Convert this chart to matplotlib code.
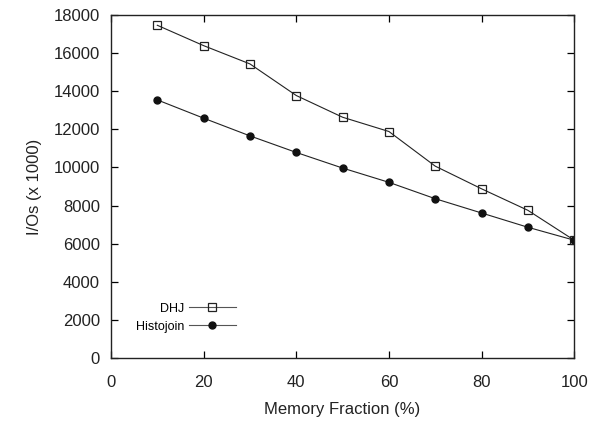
import numpy as np
import matplotlib
matplotlib.use('Agg')
import matplotlib.pyplot as plt

plt.rcParams['font.family'] = ['Liberation Sans', 'DejaVu Sans']

# memory fraction (%)
mem_frac = [10, 20, 30, 40, 50, 60, 70, 80, 90, 100]
# I/Os (x 1000)
dhj = [17470, 16400, 15440, 13780, 12640, 11890, 10070, 8880, 7750, 6180]
histojoin = [13550, 12590, 11660, 10790, 9970, 9220, 8360, 7610, 6860, 6180]

xticks = [0, 20, 40, 60, 80, 100]
yticks = list(range(0, 18001, 2000))

fig = plt.figure(figsize=(6.0, 4.22), dpi=100)
ax = fig.add_axes([0.185, 0.152, 0.772, 0.812])

ax.plot(mem_frac, dhj, color='#222222', lw=0.8, marker='s', ms=5.5,
        mfc='none', mec='#222222', mew=0.9, label='DHJ')
ax.plot(mem_frac, histojoin, color='#222222', lw=0.8, marker='o', ms=5,
        mfc='#111111', mec='#111111', label='Histojoin')

ax.set_xlim(0, 100)
ax.set_ylim(0, 18000)
ax.set_xticks(xticks)
ax.set_yticks(yticks)
ax.tick_params(direction='in', length=5, width=0.9, top=True, right=True,
               labelsize=12, labelcolor='#222222')
ax.tick_params(axis='x', pad=12)
ax.tick_params(axis='y', pad=8)
for s in ax.spines.values():
    s.set_linewidth(1.0)
    s.set_color('#222222')

ax.set_xlabel('Memory Fraction (%)', fontsize=12, labelpad=9, color='#222222')
ax.set_ylabel('I/Os (x 1000)', fontsize=12, labelpad=8, color='#222222')

leg = ax.legend(loc='lower left', bbox_to_anchor=(0.04, 0.055),
                frameon=False, markerfirst=False, fontsize=9,
                handlelength=3.8, handletextpad=0.35, borderpad=0,
                labelspacing=0.5)
for l in leg.get_lines():
    l.set_color('#555555')

plt.savefig('out.png', dpi=100)
